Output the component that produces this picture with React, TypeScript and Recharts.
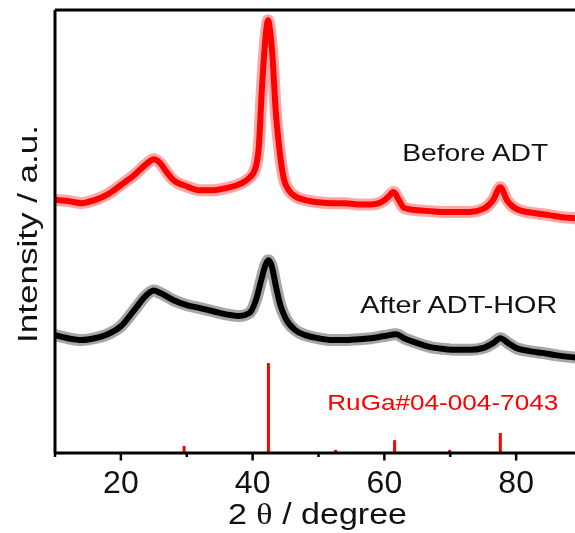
import React from 'react';
import { LineChart, Line, XAxis, YAxis, ReferenceLine, ReferenceDot } from 'recharts';

// Before ADT (red) pattern, 2θ in degrees and intensity in a.u.
const beforeAngles = [10, 12, 14, 16, 18, 20, 22, 24, 25, 26, 27, 28, 30, 32, 34, 36, 38, 39.5, 40.3, 40.9, 41.4, 41.8, 42.1, 42.35, 42.6, 43.0, 43.5, 44.0, 44.7, 45.5, 46.5, 48, 50, 52, 54, 56, 58, 59.5, 60.5, 61.4, 62.2, 63, 65, 67, 69, 71, 73, 75, 76.5, 77.6, 78.6, 79.6, 81, 83, 85, 87, 89, 90];
const beforeIntensity = [57.1, 56.9, 56.4, 57.1, 58.4, 60.5, 62.7, 65.4, 66.3, 65.4, 63.3, 61.6, 60.2, 59.3, 59.3, 59.8, 60.7, 62.1, 63.8, 68.4, 81.9, 90.9, 95.9, 97.7, 95.9, 89.8, 77.4, 69.5, 62.1, 59.3, 57.9, 57.1, 56.6, 56.4, 56.4, 56.1, 56.1, 56.6, 57.7, 58.9, 57.1, 55.3, 54.8, 54.6, 54.4, 54.4, 54.4, 55.1, 57.1, 60.0, 57.1, 55.5, 54.6, 54.1, 53.7, 53.2, 53.0, 52.7];

// After ADT-HOR (black) pattern
const afterAngles = [10, 12, 14, 16, 18, 20, 22, 24, 25, 26, 28, 30, 32, 34, 36, 38, 39.5, 40.5, 41.3, 42.0, 42.4, 42.9, 43.5, 44.2, 45, 46.5, 48, 50, 52, 54, 56, 58, 60, 61.8, 63, 65, 67, 69, 71, 73, 75, 76.5, 77.6, 78.8, 80, 82, 84, 86, 88, 90];
const afterIntensity = [26.6, 25.9, 25.5, 25.9, 26.8, 28.6, 32.2, 35.8, 36.7, 36.1, 34.5, 33.4, 32.7, 32.0, 31.3, 30.9, 31.6, 34.5, 39.0, 42.6, 43.5, 42.2, 37.9, 33.4, 30.4, 27.7, 26.6, 25.9, 25.5, 25.5, 25.7, 25.9, 26.4, 26.8, 25.9, 24.8, 23.9, 23.5, 23.3, 23.3, 23.7, 24.8, 25.9, 24.8, 23.7, 23.0, 22.6, 22.1, 21.7, 21.4];

// RuGa#04-004-7043 reference pattern
const refAngles = [29.6, 42.4, 52.6, 61.55, 69.9, 77.6];
const refIntensity = [1.6, 20.3, 0.7, 2.9, 0.7, 4.5];

const xTicks = [10, 20, 30, 40, 50, 60, 70, 80, 90];
const majorTicks = [20, 40, 60, 80];

const beforeData = beforeAngles.map((x, i) => ({ x, y: beforeIntensity[i] }));
const afterData = afterAngles.map((x, i) => ({ x, y: afterIntensity[i] }));

const FONT = '"Liberation Sans", Arial, sans-serif';

const renderTick = (props: any) => {
  const { x, y, payload } = props;
  const major = majorTicks.includes(payload.value);
  return (
    <g>
      <line x1={x} x2={x} y1={y} y2={y + (major ? 7.5 : 4)} stroke="#000" strokeWidth={2.5} />
      {major && (
        <text x={x} y={y + 40} textAnchor="middle" fontFamily={FONT} fontSize={32} fill="#111">
          {payload.value}
        </text>
      )}
    </g>
  );
};

const XLabel = (props: any) => {
  const vb = props.viewBox;
  const cx = vb.x + vb.width / 2 - 1;
  return (
    <text x={cx} y={vb.y + 71.3} textAnchor="middle" fontFamily={FONT} fontSize={30} fill="#111" textLength={179} lengthAdjust="spacingAndGlyphs">
      2 <tspan fontFamily='"Liberation Serif", serif'>θ</tspan> / degree
    </text>
  );
};

const YLabel = (props: any) => {
  const vb = props.viewBox;
  const cx = 29;
  const cy = vb.y + vb.height / 2 + 2.5;
  return (
    <text x={cx} y={cy} textAnchor="middle" transform={`rotate(-90 ${cx} ${cy})`} fontFamily={FONT} fontSize={27} fill="#111" textLength={218} lengthAdjust="spacingAndGlyphs">
      Intensity / a.u.
    </text>
  );
};

const makeNote = (text: string, len: number, size: number, color: string) => (props: any) => {
  const vb = props.viewBox;
  return (
    <text x={vb.x} y={vb.y} textAnchor="start" fontFamily={FONT} fontSize={size} fill={color} textLength={len} lengthAdjust="spacingAndGlyphs">
      {text}
    </text>
  );
};

export default function App() {
  return (
    <div style={{ position: 'fixed', left: 0, top: 0, width: 575, height: 533, overflow: 'hidden' }}>
      <div style={{ position: 'absolute', left: 8, top: 8 }}>
        <LineChart width={579} height={525} margin={{ top: 2, right: 5, left: 0, bottom: 0 }}>
          <XAxis
            type="number"
            dataKey="x"
            domain={[10, 90]}
            ticks={xTicks}
            tickSize={0}
            tickMargin={0}
            tickLine={false}
            axisLine={{ stroke: '#000', strokeWidth: 3 }}
            height={80}
            tick={renderTick}
            label={XLabel}
            allowDataOverflow
          />
          <YAxis
            type="number"
            domain={[0, 100]}
            width={47}
            tick={false}
            tickLine={false}
            axisLine={{ stroke: '#000', strokeWidth: 3 }}
            label={YLabel}
            allowDataOverflow
          />
          <ReferenceLine y={100} stroke="#000" strokeWidth={3} />
          <Line data={beforeData} dataKey="y" type="monotone" stroke="#ff0000" strokeOpacity={0.35} strokeWidth={12} dot={false} activeDot={false} isAnimationActive={false} strokeLinejoin="round" />
          <Line data={beforeData} dataKey="y" type="monotone" stroke="#ff0000" strokeWidth={6} dot={false} activeDot={false} isAnimationActive={false} strokeLinejoin="round" />
          <Line data={afterData} dataKey="y" type="monotone" stroke="#000000" strokeOpacity={0.35} strokeWidth={12} dot={false} activeDot={false} isAnimationActive={false} strokeLinejoin="round" />
          <Line data={afterData} dataKey="y" type="monotone" stroke="#000000" strokeWidth={6} dot={false} activeDot={false} isAnimationActive={false} strokeLinejoin="round" />
          {refAngles.map((a, i) => (
            <ReferenceLine key={i} segment={[{ x: a, y: 0 }, { x: a, y: refIntensity[i] }]} stroke="#ff0000" strokeWidth={3} />
          ))}
          <ReferenceDot x={62.7} y={66.0} r={0} fill="none" stroke="none" label={makeNote('Before ADT', 146, 24, '#111')} />
          <ReferenceDot x={56.35} y={31.6} r={0} fill="none" stroke="none" label={makeNote('After ADT-HOR', 197, 24, '#111')} />
          <ReferenceDot x={51.33} y={9.65} r={0} fill="none" stroke="none" label={makeNote('RuGa#04-004-7043', 231, 22, '#ff0000')} />
        </LineChart>
      </div>
    </div>
  );
}
